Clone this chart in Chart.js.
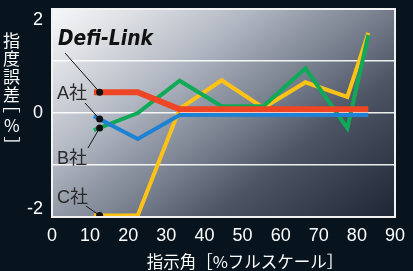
<!DOCTYPE html>
<html>
<head>
<meta charset="utf-8">
<script src="https://cdn.jsdelivr.net/npm/chart.js@4"></script>
<style>
  html, body { margin: 0; padding: 0; background: #07131d; }
  canvas { display: block; }
</style>
</head>
<body>
<canvas id="chart" width="413" height="271"></canvas>
<script>
// 指示角 [%FS]
const xValues = [11, 22.5, 33.5, 44.5, 55.5, 66.5, 77.5, 83];
// 指度誤差 [%]
const defiLink = [0.4, 0.4, 0.07, 0.07, 0.07, 0.07, 0.07, 0.07];
const companyA = [-0.06, -0.5, -0.04, -0.04, -0.04, -0.04, -0.04, -0.04];
const companyB = [-0.33, 0.0, 0.62, 0.13, 0.13, 0.86, -0.29, 1.5];
const companyC = [-1.97, -1.97, 0.08, 0.63, 0.1, 0.59, 0.31, 1.54];
const seriesNames = ['Defi-Link', 'A社', 'B社', 'C社'];
const yTicks = [-2, 0, 2];
const xTitle = '指示角［%フルスケール］';
const yTitle = ['指', '度', '誤', '差', '［', '%', '］'];

function points(ys) {
    return xValues.map(function(x, i) { return { x: x, y: ys[i] }; });
}

function valueAt(ys, x) {
    for (var i = 0; i < xValues.length - 1; i++) {
        if (x >= xValues[i] && x <= xValues[i + 1]) {
            var t = (x - xValues[i]) / (xValues[i + 1] - xValues[i]);
            return ys[i] + t * (ys[i + 1] - ys[i]);
        }
    }
    return ys[0];
}

// draw one glyph centred on (x, y), optionally rotated
function glyphAt(ctx, c, x, y, rot) {
    ctx.textAlign = 'left';
    ctx.textBaseline = 'alphabetic';
    var m = ctx.measureText(c);
    var cx = (m.actualBoundingBoxRight - m.actualBoundingBoxLeft) / 2;
    var cy = (m.actualBoundingBoxDescent - m.actualBoundingBoxAscent) / 2;
    ctx.save();
    ctx.translate(x, y);
    if (rot) ctx.rotate(rot);
    ctx.fillText(c, -cx, -cy);
    ctx.restore();
}

var deco = {
    id: 'deco',
    beforeDraw: function(chart) {
        var ctx = chart.ctx, a = chart.chartArea;
        var w = a.right - a.left, h = a.bottom - a.top;
        var k = (w + 1.3 * h) / 2.69;
        ctx.save();
        ctx.fillStyle = '#07131d';
        ctx.fillRect(0, 0, chart.width, chart.height);
        var g = ctx.createLinearGradient(a.left, a.top, a.left + k, a.top + 1.3 * k);
        g.addColorStop(0, '#f6f7f9');
        g.addColorStop(0.13, '#dfe1e5');
        g.addColorStop(0.33, '#b1b7c2');
        g.addColorStop(0.41, '#9ba1ad');
        g.addColorStop(0.57, '#717988');
        g.addColorStop(0.7, '#4d5565');
        g.addColorStop(1, '#1e2535');
        ctx.fillStyle = g;
        ctx.fillRect(a.left, a.top, w, h);
        ctx.restore();
    },
    afterDatasetsDraw: function(chart) {
        var ctx = chart.ctx, a = chart.chartArea;
        var xs = chart.scales.x, ys = chart.scales.y;
        var series = [defiLink, companyA, companyB, companyC];
        // label anchors (text position, leader start)
        var spots = [
            { tx: 58, ty: 45, lx: 65, ly: 53, font: 'bold italic 22px "DejaVu Sans Condensed", "DejaVu Sans", sans-serif', w: 95, color: '#111' },
            { tx: 57, ty: 99, lx: 85, ly: 103, font: '18px "Liberation Sans", "Noto Sans CJK JP", sans-serif', color: '#2a2a2a' },
            { tx: 57, ty: 164, lx: 88, ly: 148, font: '18px "Liberation Sans", "Noto Sans CJK JP", sans-serif', color: '#2a2a2a' },
            { tx: 57, ty: 203, lx: 86, ly: 206, font: '18px "Liberation Sans", "Noto Sans CJK JP", sans-serif', color: '#2a2a2a' }
        ];
        var dotX = xs.getPixelForValue(12.5);
        ctx.save();
        spots.forEach(function(s, i) {
            var dy = ys.getPixelForValue(valueAt(series[i], 12.5));
            ctx.strokeStyle = '#111';
            ctx.lineWidth = 1;
            ctx.beginPath();
            ctx.moveTo(s.lx, s.ly);
            ctx.lineTo(dotX, dy);
            ctx.stroke();
            ctx.fillStyle = '#111';
            ctx.beginPath();
            ctx.arc(dotX, dy, 3.5, 0, Math.PI * 2);
            ctx.fill();
            ctx.font = s.font;
            ctx.fillStyle = s.color;
            ctx.textBaseline = 'alphabetic';
            ctx.textAlign = 'left';
            if (s.w) {
                var m = ctx.measureText(seriesNames[i]).width;
                ctx.save();
                ctx.translate(s.tx, s.ty);
                ctx.scale(s.w / m, 1);
                ctx.fillText(seriesNames[i], 0, 0);
                ctx.restore();
            } else {
                ctx.fillText(seriesNames[i], s.tx, s.ty);
            }
        });
        ctx.strokeStyle = '#f2f2f2';
        ctx.lineWidth = 2;
        ctx.strokeRect(a.left, a.top, a.right - a.left, a.bottom - a.top);
        ctx.restore();
    },
    afterDraw: function(chart) {
        var ctx = chart.ctx, a = chart.chartArea, ys = chart.scales.y;
        ctx.save();
        ctx.fillStyle = '#ffffff';
        ctx.font = '18px "Liberation Sans", Arial, sans-serif';
        ctx.textAlign = 'right';
        ctx.textBaseline = 'middle';
        yTicks.forEach(function(v) {
            var y = Math.min(Math.max(ys.getPixelForValue(v), a.top + 11), a.bottom - 8);
            ctx.fillText(String(v), 43, y);
        });
        ctx.font = '16.5px "Noto Sans CJK JP", sans-serif';
        ctx.textAlign = 'center';
        ctx.fillText(xTitle, 245, 262);
        // vertical y-axis title
        ctx.font = '17px "Noto Sans CJK JP", sans-serif';
        var centres = [41, 58.5, 76, 94, 110.5, 125.5, 139];
        yTitle.forEach(function(c, i) {
            var rot = (c === '［' || c === '］') ? Math.PI / 2 : 0;
            glyphAt(ctx, c, 11.5, centres[i], rot);
        });
        ctx.restore();
    }
};

var ctx = document.getElementById('chart').getContext('2d');
var chart = new Chart(ctx, {
    type: 'line',
    data: {
        datasets: [{
            label: seriesNames[0],
            data: points(defiLink),
            borderColor: '#ee4524',
            borderWidth: 6
        }, {
            label: seriesNames[1],
            data: points(companyA),
            borderColor: '#1d82d2',
            borderWidth: 4
        }, {
            label: seriesNames[2],
            data: points(companyB),
            borderColor: '#0faa58',
            borderWidth: 4
        }, {
            label: seriesNames[3],
            data: points(companyC),
            borderColor: '#ffc316',
            borderWidth: 4
        }]
    },
    options: {
        responsive: false,
        animation: false,
        layout: { padding: { top: 9, right: 6 } },
        elements: {
            point: { radius: 0 },
            line: { tension: 0, borderJoinStyle: 'miter', borderCapStyle: 'butt' }
        },
        plugins: { legend: { display: false }, tooltip: { enabled: false } },
        scales: {
            x: {
                type: 'linear',
                min: 0,
                max: 90,
                grid: { display: false, drawTicks: false },
                border: { display: false },
                ticks: {
                    stepSize: 10,
                    color: '#ffffff',
                    padding: 8,
                    font: { family: '"Liberation Sans", Arial, sans-serif', size: 18 }
                },
                afterFit: function(s) { s.height = 54; }
            },
            y: {
                min: -2,
                max: 2,
                grid: { color: 'rgba(255,255,255,0.9)', lineWidth: 1.5, drawTicks: false },
                border: { display: false },
                ticks: { stepSize: 1, display: false },
                afterFit: function(s) { s.width = 52; }
            }
        }
    },
    plugins: [deco]
});
</script>
</body>
</html>
